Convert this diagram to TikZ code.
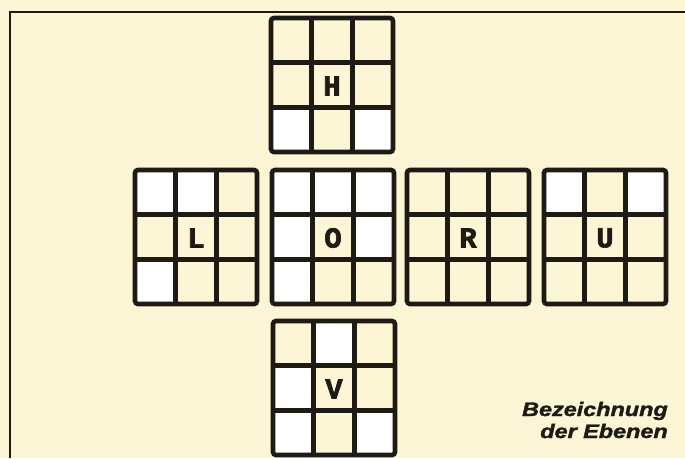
\documentclass[tikz,border=0pt]{standalone}
\usepackage{fontspec}
\setmainfont{Liberation Sans}[BoldItalicFeatures={FakeBold=1.6}]
\newfontfamily\letterfont{Liberation Mono}[BoldFeatures={FakeBold=2.2}]
\definecolor{paper}{HTML}{FCF5D6}
\definecolor{ink}{HTML}{1E1A14}
\tikzset{
  gridline/.style={draw=ink,line width=4.6pt},
  framerule/.style={draw=ink,line width=1.8pt},
  facelabel/.style={inner sep=0pt,text=ink,font=\letterfont\bfseries\fontsize{29}{29}\selectfont},
  caption/.style={inner sep=0pt,text=ink,font=\bfseries\itshape\fontsize{19.5}{19.5}\selectfont,xscale=1.2,anchor=base east}
}
\newcommand\facecell[3]{% column, row, colour
  \fill[#3] ({(#1-1)*40.67},{(#2-1)*44.67}) rectangle ++(40.67,44.67);}
\newcommand\facegrid[2]{% name, letter
  \draw[gridline,rounded corners=3pt] (0,0) rectangle (122,134);
  \draw[gridline] (40.67,0) -- (40.67,134) (81.33,0) -- (81.33,134)
                  (0,44.67) -- (122,44.67) (0,89.33) -- (122,89.33);
  \node[facelabel] (#1) at (61,68) {#2};}
\begin{document}
\begin{tikzpicture}[x=1pt,y=-1pt]
\useasboundingbox (0,0) rectangle (685,458);
\fill[paper] (0,0) rectangle (685,458);
\draw[framerule] (685,12) -- (10,12) -- (10,458);
% H (top)
\begin{scope}[shift={(271,18)}]
  \facecell{1}{3}{white}\facecell{3}{3}{white}
  \facegrid{H}{H}
\end{scope}
% L
\begin{scope}[shift={(135,170)}]
  \facecell{1}{1}{white}\facecell{2}{1}{white}\facecell{1}{3}{white}
  \facegrid{L}{L}
\end{scope}
% O
\begin{scope}[shift={(272,170)}]
  \facecell{1}{1}{white}\facecell{2}{1}{white}\facecell{3}{1}{white}
  \facecell{1}{2}{white}\facecell{3}{2}{white}\facecell{1}{3}{white}
  \facegrid{O}{O}
\end{scope}
% R
\begin{scope}[shift={(407,170)}]
  \facegrid{R}{R}
\end{scope}
% U
\begin{scope}[shift={(544,170)}]
  \facecell{1}{1}{white}\facecell{3}{1}{white}
  \facegrid{U}{U}
\end{scope}
% V (bottom)
\begin{scope}[shift={(273,321)}]
  \facecell{2}{1}{white}\facecell{1}{2}{white}
  \facecell{1}{3}{white}\facecell{3}{3}{white}
  \facegrid{V}{V}
\end{scope}
\node[caption] (cap1) at (668,416) {Bezeichnung};
\node[caption] (cap2) at (668,438) {der Ebenen};
\end{tikzpicture}
\end{document}
